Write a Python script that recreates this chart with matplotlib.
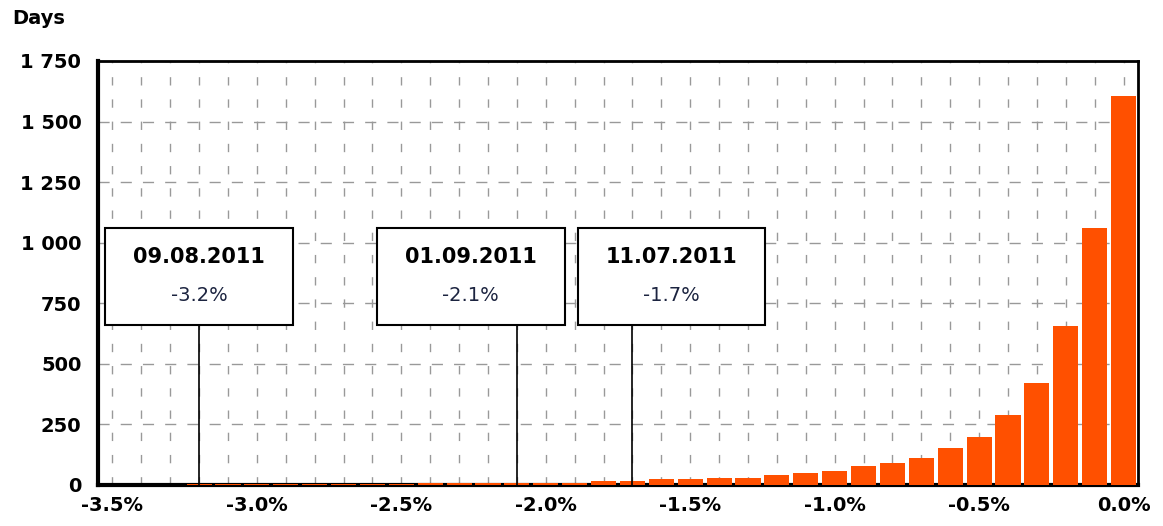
import numpy as np
import matplotlib.pyplot as plt
from matplotlib.patches import Rectangle
from matplotlib.ticker import FuncFormatter, MultipleLocator

# daily return bins (percent) and number of days
bins = np.round(np.arange(-3.5, 0.01, 0.1), 1)
days = [0, 0, 0, 3, 4, 4, 4, 4, 4, 4, 4, 9, 9, 9, 9, 10, 10, 16,
        16, 23, 23, 30, 30, 43, 49, 58, 78, 91, 111, 152, 198, 288,
        420, 658, 1060, 1605]

# worst days
ann_dates = ['09.08.2011', '01.09.2011', '11.07.2011']
ann_values = [-3.2, -2.1, -1.7]
ann_shift = [0.0, -0.16, 0.135]   # box offset from the marked bin

fig = plt.figure(figsize=(11.63, 5.26), dpi=100)
ax = fig.add_axes([98/1163, 1-485/526, (1138-98)/1163, (485-61)/526])

ax.bar(bins, days, width=0.087, color='#ff5000', zorder=3)

ax.set_xlim(-3.55, 0.05)
ax.set_ylim(0, 1750)
ax.xaxis.set_major_locator(MultipleLocator(0.5))
ax.xaxis.set_minor_locator(MultipleLocator(0.1))
ax.yaxis.set_major_locator(MultipleLocator(250))
ax.xaxis.set_major_formatter(FuncFormatter(lambda v, p: '%.1f%%' % v if abs(v) > 1e-9 else '0.0%'))
ax.yaxis.set_major_formatter(FuncFormatter(lambda v, p: '{:,}'.format(int(v)).replace(',', ' ')))

ax.grid(True, which='both', axis='x', color='#999999', linestyle=(0, (6, 10)), linewidth=1)
ax.grid(True, which='major', axis='y', color='#999999', linestyle=(0, (8, 8)), linewidth=1)
ax.set_axisbelow(True)

ax.tick_params(which='both', length=0)
ax.tick_params(axis='x', pad=8)
ax.tick_params(axis='y', pad=12)
for lab in ax.get_xticklabels() + ax.get_yticklabels():
    lab.set_fontsize(14)
    lab.set_fontweight('bold')

for side in ['left', 'bottom']:
    ax.spines[side].set_linewidth(3)
for side in ['top', 'right']:
    ax.spines[side].set_linewidth(2)

fig.text(12/1163, 1-19/526, 'Days', fontsize=14, fontweight='bold', va='center', ha='left')

box_w = 0.65
box_bot, box_top = 660, 1060
for d, v, s in zip(ann_dates, ann_values, ann_shift):
    ax.plot([v, v], [0, box_bot], color='black', lw=1.2, zorder=4)
    cx = v + s
    ax.add_patch(Rectangle((cx - box_w/2, box_bot), box_w, box_top - box_bot,
                           facecolor='white', edgecolor='black', lw=1.5, zorder=5))
    ax.text(cx, 939, d, ha='center', va='center', fontsize=15, fontweight='bold', zorder=6)
    ax.text(cx, 782, '%.1f%%' % v, ha='center', va='center', fontsize=14,
            color='#1c2440', zorder=6)

fig.savefig('out.png', dpi=100)
